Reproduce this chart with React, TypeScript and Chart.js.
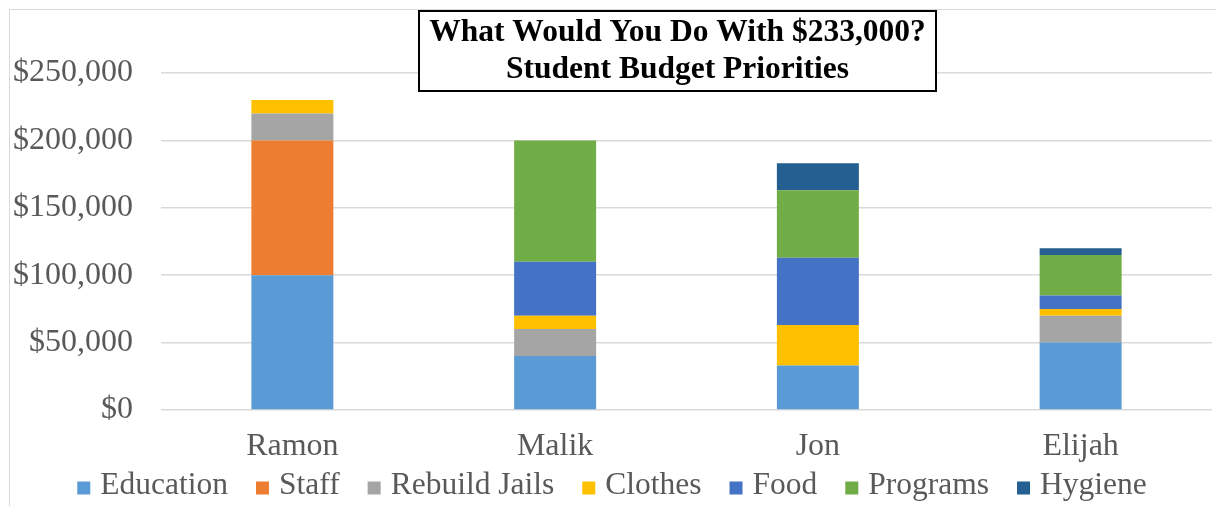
import React, { useEffect, useRef } from "react";
import { Chart, registerables } from "chart.js";

Chart.register(...registerables);

const categories = ["Ramon", "Malik", "Jon", "Elijah"];
const seriesNames = ["Education", "Staff", "Rebuild Jails", "Clothes", "Food", "Programs", "Hygiene"];
const education = [100000, 40000, 33000, 50000];
const staff = [100000, 0, 0, 0];
const rebuildJails = [20000, 20000, 0, 20000];
const clothes = [10000, 10000, 30000, 5000];
const food = [0, 40000, 50000, 10000];
const programs = [0, 90000, 50000, 30000];
const hygiene = [0, 0, 20000, 5000];
const seriesValues = [education, staff, rebuildJails, clothes, food, programs, hygiene];
const seriesColors = ["#5B9BD5", "#ED7D31", "#A5A5A5", "#FFC000", "#4472C4", "#70AD47", "#255E91"];
const titleLines = ["What Would You Do With $233,000?", "Student Budget Priorities"];

const FONT = '"Liberation Serif", "Times New Roman", serif';
const FS = 32;
const TEXT = "#595959";

const fmt = (v: number) => "$" + String(Math.round(v)).replace(/\B(?=(\d{3})+(?!\d))/g, ",");

const titlePlugin = {
  id: "boxTitle",
  afterDraw(chart: any) {
    const ctx = chart.ctx;
    ctx.save();
    const x = 410, y = 2, w = 519, h = 82;
    ctx.fillStyle = "#ffffff";
    ctx.fillRect(x, y, w, h);
    ctx.strokeStyle = "#000000";
    ctx.lineWidth = 2;
    ctx.strokeRect(x + 1, y + 1, w - 2, h - 2);
    ctx.fillStyle = "#000000";
    ctx.font = `bold 31.5px ${FONT}`;
    ctx.textAlign = "center";
    ctx.textBaseline = "middle";
    ctx.fillText(titleLines[0], x + w / 2, 25);
    ctx.fillText(titleLines[1], x + w / 2, 62);
    ctx.restore();
  },
};

const legendPlugin = {
  id: "bottomLegend",
  afterDraw(chart: any) {
    const ctx = chart.ctx;
    ctx.save();
    ctx.font = `31.5px ${FONT}`;
    const box = 13, gapBT = 10, gapItem = 28;
    const items = chart.data.datasets.map((ds: any) => ({
      label: ds.label,
      color: ds.backgroundColor,
      w: ctx.measureText(ds.label).width,
    }));
    const total = items.reduce((s: number, it: any) => s + box + gapBT + it.w, 0) + gapItem * (items.length - 1);
    let x = chart.width / 2 - total / 2 - 4;
    const y = 478;
    ctx.textBaseline = "middle";
    ctx.textAlign = "left";
    for (const it of items) {
      ctx.fillStyle = it.color;
      ctx.fillRect(x, y - box / 2 + 2, box, box);
      x += box + gapBT;
      ctx.fillStyle = TEXT;
      ctx.fillText(it.label, x, y);
      x += it.w + gapItem;
    }
    ctx.restore();
  },
};

export default function App() {
  const ref = useRef<HTMLCanvasElement | null>(null);
  useEffect(() => {
    if (!ref.current) return;
    const chart = new Chart(ref.current, {
      type: "bar",
      data: {
        labels: categories,
        datasets: seriesNames.map((name, i) => ({
          label: name,
          data: seriesValues[i],
          backgroundColor: seriesColors[i],
          borderWidth: 0,
          barPercentage: 0.312,
          categoryPercentage: 1,
        })),
      },
      options: {
        animation: false,
        responsive: false,
        maintainAspectRatio: false,
        layout: { padding: { top: 65, right: 12, bottom: 40, left: 0 } },
        plugins: {
          legend: { display: false },
          title: { display: false },
          tooltip: { enabled: false },
        },
        scales: {
          x: {
            stacked: true,
            grid: { display: false, drawTicks: false },
            border: { display: false },
            ticks: { color: TEXT, font: { family: FONT, size: FS }, padding: 17 },
            afterFit: (s: any) => { s.height = 56; },
          },
          y: {
            stacked: true,
            min: 0,
            max: 250000,
            grid: { color: "#d9d9d9", lineWidth: 1.5, drawTicks: false },
            border: { display: false },
            ticks: {
              stepSize: 50000,
              color: TEXT,
              font: { family: FONT, size: FS },
              padding: 28,
              callback: (v: any) => fmt(Number(v)),
            },
            afterFit: (s: any) => { s.width = 153; },
          },
        },
      },
      plugins: [titlePlugin, legendPlugin],
    });
    return () => chart.destroy();
  }, []);
  return (
    <div style={{ position: "relative", width: 1216, height: 498 }}>
      <div
        style={{
          position: "absolute",
          left: 1,
          top: 1,
          width: 1300,
          height: 600,
          borderLeft: "1px solid #d9d9d9",
          borderTop: "1px solid #d9d9d9",
          boxSizing: "border-box",
          pointerEvents: "none",
        }}
      />
      <canvas ref={ref} width={1216} height={498} style={{ position: "absolute", left: 0, top: 0 }} />
    </div>
  );
}
